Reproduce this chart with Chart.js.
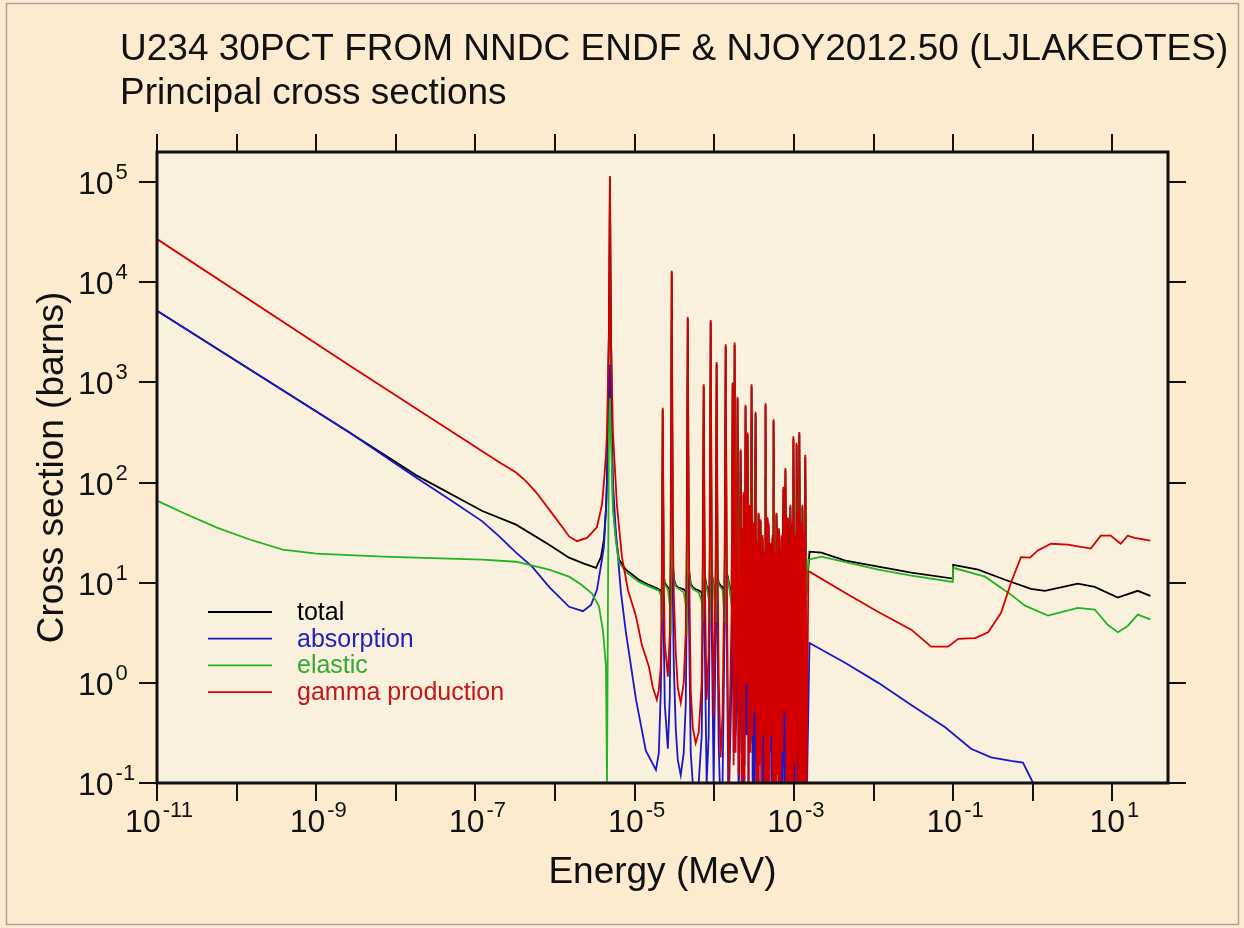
<!doctype html>
<html>
<head>
<meta charset="utf-8">
<title>U234 principal cross sections</title>
<script src="https://cdn.jsdelivr.net/npm/chart.js@4.4.1/dist/chart.umd.min.js"></script>
<style>
  body { margin: 0; background: #fdebcf; }
  canvas { display: block; }
</style>
</head>
<body>
<canvas id="canvas" width="1244" height="928"></canvas>
<script>
// ---- data: energies in MeV, cross sections in barns ----

// thermal range and the big 5 eV resonance
var totalLowE  = [1e-11, 2.62e-9, 1.81e-8, 1.22e-7, 3.24e-7, 8.41e-7, 1.50e-6, 2.31e-6, 3.27e-6, 3.77e-6, 4.11e-6, 4.36e-6, 4.49e-6, 4.75e-6, 4.89e-6, 5.03e-6, 5.33e-6, 5.81e-6, 6.34e-6, 7.76e-6, 1.13e-5, 1.51e-5, 1.90e-5];
var totalLowXS = [5.2e3, 316, 118, 52, 38, 24, 17.8, 15.5, 14.1, 18, 27, 55, 107, 3500, 1.1e5, 3500, 60, 28, 17, 13.5, 10.7, 9.5, 8.8];

var absLowE  = [1e-11, 2.62e-9, 1.81e-8, 4.70e-8, 1.22e-7, 1.99e-7, 3.24e-7, 5.15e-7, 8.41e-7, 1.50e-6, 2.24e-6, 2.83e-6, 3.36e-6, 3.88e-6, 4.11e-6, 4.36e-6, 4.49e-6, 4.75e-6, 4.89e-6, 5.03e-6, 5.33e-6, 5.81e-6, 6.72e-6, 7.76e-6, 1.04e-5, 1.38e-5, 1.85e-5];
var absLowXS = [5.2e3, 316, 112, 68, 41, 29, 20, 14.5, 9.1, 5.75, 5.2, 6, 8.5, 17, 23, 54, 100, 400, 1500, 400, 100, 32, 8, 3.2, 0.68, 0.21, 0.135];

var elasLowE  = [1e-11, 2.12e-11, 5.65e-11, 1.46e-10, 3.79e-10, 1.01e-9, 6.79e-9, 1.22e-7, 3.24e-7, 8.41e-7, 1.50e-6, 2.12e-6, 2.91e-6, 3.56e-6, 4.00e-6, 4.36e-6, 4.49e-6, 4.61e-6, 4.75e-6, 4.89e-6, 5.03e-6, 5.33e-6, 5.81e-6, 6.34e-6, 7.76e-6, 1.13e-5, 1.51e-5, 1.90e-5];
var elasLowXS = [66, 50, 35.5, 27, 21.4, 19.5, 18.2, 17, 16.2, 13.5, 11.5, 9.6, 7.8, 5.8, 3.3, 1.45, 0.1, 5, 300, 700, 300, 55, 26, 16, 12.8, 10.2, 9.2, 8.5];

var gammaLowE  = [1e-11, 2.62e-9, 1.99e-7, 3.24e-7, 4.34e-7, 5.78e-7, 8.41e-7, 1.30e-6, 1.50e-6, 1.89e-6, 2.52e-6, 3.36e-6, 3.88e-6, 4.11e-6, 4.36e-6, 4.49e-6, 4.75e-6, 4.89e-6, 5.03e-6, 5.33e-6, 5.98e-6, 6.92e-6, 8.22e-6, 1.04e-5, 1.23e-5, 1.51e-5, 1.69e-5, 1.90e-5];
var gammaLowXS = [2.7e4, 1480, 160, 126, 103, 80, 54, 34, 29, 26, 28, 36, 60, 100, 190, 316, 3000, 1.15e5, 3000, 316, 60, 18, 8.5, 4.6, 2.4, 1.45, 0.9, 0.68];

// resolved resonance region on one shared energy grid
var resE = [
  2.01e-5, 2.13e-5, 2.19e-5, 2.25e-5, 2.32e-5, 2.39e-5, 2.61e-5,
  2.76e-5, 2.84e-5, 2.92e-5, 3.01e-5, 3.10e-5, 3.28e-5, 3.48e-5, 3.79e-5,
  4.13e-5, 4.38e-5, 4.51e-5, 4.64e-5, 4.78e-5, 5.06e-5, 5.36e-5, 5.84e-5, 6.37e-5,
  6.95e-5, 7.15e-5, 7.36e-5, 7.57e-5, 8.02e-5, 8.50e-5, 8.75e-5, 9.01e-5, 9.27e-5, 9.82e-5,
  1.04e-4, 1.07e-4, 1.10e-4, 1.135e-4, 1.20e-4, 1.27e-4, 1.35e-4, 1.39e-4, 1.43e-4, 1.51e-4,
  1.65e-4, 1.70e-4, 1.75e-4, 1.80e-4, 1.85e-4, 1.91e-4, 1.96e-4, 2.02e-4, 2.08e-4, 2.14e-4, 2.20e-4, 2.27e-4, 2.30e-4,
  2.33e-4, 2.40e-4, 2.47e-4, 2.54e-4, 2.62e-4, 2.69e-4, 2.77e-4, 2.85e-4, 2.94e-4, 3.03e-4, 3.11e-4, 3.20e-4, 3.30e-4, 3.40e-4, 3.49e-4, 3.55e-4,
  3.60e-4, 3.70e-4, 3.81e-4, 3.92e-4, 4.04e-4, 4.15e-4, 4.28e-4, 4.34e-4, 4.40e-4, 4.53e-4, 4.66e-4, 4.73e-4,
  4.80e-4, 4.94e-4, 5.08e-4, 5.23e-4, 5.39e-4, 5.47e-4, 5.55e-4, 5.71e-4, 5.87e-4, 5.96e-4, 6.04e-4, 6.22e-4, 6.40e-4, 6.49e-4,
  6.59e-4, 6.78e-4, 6.98e-4, 7.18e-4, 7.39e-4, 7.61e-4, 7.83e-4, 8.06e-4, 8.29e-4, 8.41e-4,
  8.54e-4, 8.79e-4, 9.04e-4, 9.31e-4, 9.58e-4, 9.72e-4, 9.86e-4, 1.02e-3, 1.05e-3, 1.065e-3, 1.08e-3, 1.11e-3, 1.14e-3, 1.155e-3,
  1.17e-3, 1.21e-3, 1.24e-3, 1.26e-3, 1.28e-3, 1.32e-3, 1.35e-3, 1.37e-3, 1.39e-3, 1.44e-3];

var resGamma = [
  0.85, 1.45, 8, 560, 10, 2.5, 1.15,
  3, 40, 1.3e4, 40, 8, 2, 0.9, 0.63,
  1.0, 3.2, 30, 4500, 30, 0.85, 0.36, 0.25, 0.32,
  1.0, 15, 960, 15, 0.68, 2, 20, 4200, 20, 0.46,
  15, 1600, 15, 1.2, 0.18, 0.5, 20, 2400, 20, 0.1,
  5, 1000, 0.15, 2500, 0.2, 3, 720, 0.12, 2, 215, 0.1, 35, 0.12,
  80, 0.09, 600, 1, 316, 0.1, 60, 0.2, 960, 0.3, 40, 0.5, 510, 0.1, 25, 0.1,
  50, 0.15, 43, 0.1, 30, 0.3, 20, 0.1, 620, 0.1, 45, 0.1,
  40, 0.1, 25, 0.3, 30, 0.1, 430, 0.1, 20, 0.1, 50, 0.12, 35, 0.1,
  20, 0.08, 30, 0.2, 91, 0.5, 140, 0.1, 45, 0.1,
  25, 0.09, 60, 0.1, 40, 0.1, 290, 0.15, 30, 0.1, 250, 0.2, 50, 0.1,
  320, 0.1, 40, 0.1, 60, 0.08, 30, 0.1, 190, 0.1];

var resTotal = [
  8.6, 8.4, 8, 530, 12, 10, 9,
  8.5, 6, 1.25e4, 16, 11, 9.5, 9, 8.8,
  8.6, 8.2, 6, 4300, 14, 9.8, 9, 8.6, 8.4,
  8, 6, 910, 12, 9.2, 8.6, 6.5, 4000, 13, 9.3,
  7, 1520, 12, 10, 9.4, 9, 7, 2280, 13, 10.5,
  7, 950, 11, 2380, 12, 8, 685, 11, 7, 205, 12, 33, 10,
  76, 9, 570, 14, 300, 11, 57, 9, 910, 15, 38, 10, 485, 12, 24, 13,
  48, 24, 41, 17, 28, 10, 19, 11, 590, 14, 43, 10,
  38, 9, 24, 11, 28, 12, 410, 13, 19, 14, 48, 19, 33, 12,
  19, 9, 28, 11, 86, 14, 133, 10, 43, 10,
  24, 9, 57, 12, 38, 11, 275, 10, 28, 11, 238, 11, 48, 10,
  305, 9, 38, 9, 57, 8, 28, 8, 180, 8];

var resAbs = [
  0.2, 0.85, 3, 140, 3, 0.6, 0.22,
  0.7, 8, 3000, 8, 1.5, 0.35, 0.17, 0.12,
  0.2, 0.6, 6, 1000, 6, 0.2, 0.1, 0.09, 0.1,
  0.3, 3, 200, 3, 0.1, 0.3, 4, 900, 4, 0.1,
  3, 350, 3, 0.25, 0.05, 0.1, 4, 500, 4, 0.05,
  1, 200, 0.2, 500, 0.3, 0.6, 150, 0.05, 0.4, 45, 0.2, 7, 0.1,
  16, 0.15, 120, 0.3, 60, 0.05, 12, 0.25, 190, 0.1, 8, 0.1, 100, 0.05, 5, 0.05,
  10, 0.2, 9, 0.05, 6, 0.1, 4, 0.05, 120, 0.05, 9, 0.05,
  8, 0.2, 5, 0.1, 6, 0.05, 85, 0.05, 4, 0.05, 10, 0.25, 7, 0.05,
  4, 0.05, 6, 0.1, 18, 0.1, 28, 0.05, 9, 0.05,
  5, 0.2, 12, 0.05, 8, 0.05, 58, 0.05, 6, 0.05, 50, 0.1, 10, 0.05,
  64, 0.05, 8, 0.05, 12, 0.05, 6, 0.05, 38, 0.05];

var resElastic = [
  8.4, 7.5, 4, 170, 12, 9.6, 8.6,
  6, 3, 4000, 15, 10.5, 9.2, 8.8, 8.5,
  8.0, 6, 3, 1400, 13, 9.4, 8.7, 8.3, 8.0,
  6.5, 4, 300, 11, 8.8, 7, 4, 1300, 12, 8.9,
  4, 500, 11, 9.5, 9, 8.5, 4, 750, 12, 10,
  6, 300, 10, 750, 11, 7, 220, 10, 6, 65, 11, 12, 9,
  25, 8, 180, 13, 95, 10, 18, 8, 290, 14, 12, 9, 150, 11, 14, 12,
  15, 22, 40, 16, 9, 9, 10, 10, 190, 13, 14, 9,
  12, 8, 8, 10, 12, 11, 130, 12, 14, 13, 15, 18, 16, 11,
  6, 8, 9, 10, 27, 13, 42, 9, 14, 9,
  8, 8, 18, 11, 14, 10, 90, 9, 10, 10, 75, 10, 15, 9,
  100, 8, 12, 8, 18, 7, 10, 7, 57, 7.5];

// unresolved and fast range
var totalHighE  = [1.57e-3, 2.22e-3, 4.44e-3, 1.15e-2, 2.98e-2, 9.9e-2, 0.1, 0.206, 0.449, 0.948, 1.42, 3.68, 6.01, 11.7, 20.8, 30];
var totalHighXS = [20.4, 20, 16.6, 14.5, 12.6, 11.0, 15.1, 13.5, 10.7, 8.7, 8.3, 9.8, 9.1, 7.1, 8.3, 7.4];

var absHighE  = [1.57e-3, 4.44e-3, 1.15e-2, 2.98e-2, 7.94e-2, 0.168, 0.299, 0.533, 0.753, 1.01, 30];
var absHighXS = [2.5, 1.58, 1.0, 0.6, 0.36, 0.22, 0.18, 0.166, 0.16, 0.1, 0.1];

var elasHighE  = [1.52e-3, 2.22e-3, 1.15e-2, 2.98e-2, 9.9e-2, 0.1, 0.252, 0.533, 0.80, 1.55, 3.68, 6.01, 8.75, 11.7, 15.6, 20.8, 30];
var elasHighXS = [17, 18.2, 13.5, 11.8, 10.2, 14.1, 11.5, 7.6, 5.9, 4.7, 5.6, 5.4, 3.8, 3.2, 3.7, 4.8, 4.3];

var gammaHighE  = [1.52e-3, 1.57e-3, 4.44e-3, 1.15e-2, 2.98e-2, 5.3e-2, 8.65e-2, 0.116, 0.189, 0.275, 0.40, 0.533, 0.711, 0.923, 1.16, 1.69, 2.76, 5.36, 7.16, 9.55, 12.7, 15.6, 19.1, 30];
var gammaHighXS = [13, 12.9, 7.9, 5.1, 3.4, 2.3, 2.3, 2.75, 2.8, 3.2, 5.0, 10, 18, 17.8, 21, 24.5, 24, 21.9, 29.5, 29.5, 24.5, 29.5, 28, 26.3];

// axis decades (exponents) and which ones carry a label
var xDecades = [-11, -10, -9, -8, -7, -6, -5, -4, -3, -2, -1, 0, 1];
var xLabelled = [-11, -9, -7, -5, -3, -1, 1];
var yDecades = [-1, 0, 1, 2, 3, 4, 5];

var seriesNames = ['total', 'absorption', 'elastic', 'gamma production'];
var lineColors = ['#000000', '#1818c8', '#22b422', '#d40000'];
var textColors = ['#000000', '#2222c0', '#33aa33', '#c41818'];

var titleLines = ['U234 30PCT FROM NNDC ENDF & NJOY2012.50 (LJLAKEOTES)', 'Principal cross sections'];

function pairs(e, s) {
  var out = [];
  for (var i = 0; i < e.length; i++) out.push({x: e[i], y: s[i]});
  return out;
}

var FONT = '"Liberation Sans", Arial, Helvetica, sans-serif';

// "10" with a raised exponent
function drawPow(ctx, exp, x, y, mode) {
  var base = '10', sup = String(exp);
  ctx.font = '32px ' + FONT;
  var wb = ctx.measureText(base).width;
  ctx.font = '22px ' + FONT;
  var ws = ctx.measureText(sup).width;
  var x0 = mode === 'center' ? x - (wb + 2 + ws) / 2 : x;
  ctx.textAlign = 'left';
  ctx.textBaseline = 'alphabetic';
  ctx.font = '32px ' + FONT;
  ctx.fillText(base, x0, y);
  ctx.font = '22px ' + FONT;
  ctx.fillText(sup, x0 + wb + 2, y - 15);
}

var decor = {
  id: 'decor',
  beforeDraw: function(chart) {
    var ctx = chart.ctx, a = chart.chartArea;
    ctx.save();
    ctx.fillStyle = '#fdebcf';
    ctx.fillRect(0, 0, chart.width, chart.height);
    ctx.strokeStyle = '#a8a39a';
    ctx.lineWidth = 1.5;
    ctx.strokeRect(6.5, 3.5, chart.width - 12, chart.height - 7);
    ctx.fillStyle = '#f9f0dd';
    ctx.fillRect(a.left, a.top, a.right - a.left, a.bottom - a.top);
    ctx.restore();
  },
  afterDraw: function(chart) {
    var ctx = chart.ctx, a = chart.chartArea;
    var xs = chart.scales.x, ys = chart.scales.y;
    var tick = 18;
    ctx.save();
    ctx.strokeStyle = '#111';
    ctx.fillStyle = '#111';

    // frame
    ctx.lineWidth = 3;
    ctx.strokeRect(a.left, a.top, a.right - a.left, a.bottom - a.top);

    // tick marks outside the frame
    ctx.lineWidth = 2;
    ctx.beginPath();
    xDecades.forEach(function(e) {
      var px = Math.round(xs.getPixelForValue(Math.pow(10, e)));
      ctx.moveTo(px, a.bottom); ctx.lineTo(px, a.bottom + tick);
      ctx.moveTo(px, a.top); ctx.lineTo(px, a.top - tick);
    });
    yDecades.forEach(function(e) {
      var py = Math.round(ys.getPixelForValue(Math.pow(10, e)));
      ctx.moveTo(a.left, py); ctx.lineTo(a.left - tick, py);
      ctx.moveTo(a.right, py); ctx.lineTo(a.right + tick, py);
    });
    ctx.stroke();

    // tick labels
    xLabelled.forEach(function(e) {
      drawPow(ctx, e, xs.getPixelForValue(Math.pow(10, e)) + 2, a.bottom + 49, 'center');
    });
    yDecades.forEach(function(e) {
      drawPow(ctx, e, a.left - 79, ys.getPixelForValue(Math.pow(10, e)) + 12, 'left');
    });

    // titles
    ctx.font = '37px ' + FONT;
    ctx.textAlign = 'left';
    ctx.fillText(titleLines[0], 120, 60);
    ctx.fillText(titleLines[1], 120, 104);

    ctx.textAlign = 'center';
    ctx.fillText('Energy (MeV)', (a.left + a.right) / 2, 883);
    ctx.save();
    ctx.translate(63, (a.top + a.bottom) / 2);
    ctx.rotate(-Math.PI / 2);
    ctx.fillText('Cross section (barns)', 0, 0);
    ctx.restore();

    // legend inside the plot
    ctx.font = '25px ' + FONT;
    ctx.textAlign = 'left';
    ctx.lineWidth = 1.8;
    seriesNames.forEach(function(name, i) {
      var y = a.top + 460 + i * 26.7;
      ctx.strokeStyle = lineColors[i];
      ctx.beginPath();
      ctx.moveTo(a.left + 51, y);
      ctx.lineTo(a.left + 115, y);
      ctx.stroke();
      ctx.fillStyle = textColors[i];
      ctx.fillText(name, a.left + 140, y + 8);
    });
    ctx.restore();
  }
};

var totalData = pairs(totalLowE, totalLowXS).concat(pairs(resE, resTotal), pairs(totalHighE, totalHighXS));
var absData = pairs(absLowE, absLowXS).concat(pairs(resE, resAbs), pairs(absHighE, absHighXS));
var elasData = pairs(elasLowE, elasLowXS).concat(pairs(resE, resElastic), pairs(elasHighE, elasHighXS));
var gammaData = pairs(gammaLowE, gammaLowXS).concat(pairs(resE, resGamma), pairs(gammaHighE, gammaHighXS));

function ds(label, data, i, order) {
  return {
    label: label,
    data: data,
    borderColor: lineColors[i],
    borderWidth: 1.8,
    pointRadius: 0,
    tension: 0,
    fill: false,
    order: order
  };
}

var config = {
  type: 'line',
  data: {
    datasets: [
      ds(seriesNames[0], totalData, 0, 3),
      ds(seriesNames[1], absData, 1, 2),
      ds(seriesNames[2], elasData, 2, 1),
      ds(seriesNames[3], gammaData, 3, 0)
    ]
  },
  options: {
    responsive: false,
    animation: false,
    devicePixelRatio: 1,
    events: [],
    layout: { padding: { left: 157, top: 152, right: 76, bottom: 145 } },
    scales: {
      x: { type: 'logarithmic', min: 1e-11, max: 50, display: false },
      y: { type: 'logarithmic', min: 0.1, max: 2e5, display: false }
    },
    plugins: {
      legend: { display: false },
      tooltip: { enabled: false },
      title: { display: false }
    }
  },
  plugins: [decor]
};

window.myChart = new Chart(document.getElementById('canvas'), config);
</script>
</body>
</html>
